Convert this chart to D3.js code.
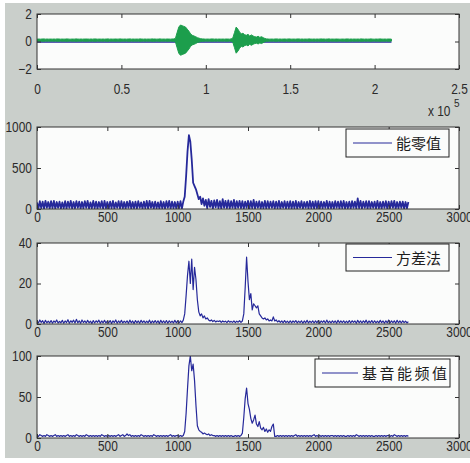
<!DOCTYPE html>
<html>
<head>
<meta charset="utf-8">
<script src="https://cdn.jsdelivr.net/npm/d3@7"></script>
<style>
    body { margin: 0; background: #fff; }
    svg text { font-family: "Liberation Sans", Arial, sans-serif; font-size: 14px; fill: #2a2a2a; }
    .legend text { font-family: "Noto Sans CJK SC", sans-serif; font-size: 15px; fill: #1e1e1e; }
    .tick line { stroke: #333; }
</style>
</head>
<body>
<div id="chart"></div>
<script>
// ---- data ----
// top panel: waveform envelope (half amplitude), one value every 0.01 x 10^5 samples
const waveStep = 0.01;
const waveAmp = [
    0.07,0.08,0.07,0.08,0.09,0.07,0.08,0.07,0.08,0.07,
    0.08,0.07,0.09,0.08,0.07,0.08,0.07,0.08,0.09,0.07,
    0.07,0.08,0.07,0.09,0.08,0.07,0.08,0.07,0.08,0.08,
    0.08,0.07,0.08,0.07,0.09,0.08,0.07,0.08,0.07,0.08,
    0.07,0.08,0.09,0.07,0.08,0.07,0.08,0.08,0.07,0.09,
    0.08,0.07,0.08,0.07,0.08,0.09,0.07,0.08,0.07,0.08,
    0.07,0.09,0.08,0.07,0.08,0.07,0.08,0.07,0.09,0.08,
    0.08,0.07,0.08,0.09,0.07,0.08,0.07,0.08,0.08,0.07,
    0.08,0.09,0.12,0.55,0.95,1.10,1.05,1.00,0.95,0.80,
    0.65,0.45,0.35,0.30,0.25,0.18,0.14,0.10,0.09,0.08,
    0.07,0.08,0.07,0.08,0.09,0.07,0.08,0.07,0.08,0.07,
    0.08,0.07,0.08,0.08,0.07,0.09,0.15,0.55,0.95,0.80,
    0.60,0.45,0.50,0.40,0.35,0.42,0.30,0.38,0.30,0.25,
    0.22,0.28,0.20,0.25,0.18,0.12,0.09,0.08,0.07,0.08,
    0.07,0.08,0.09,0.07,0.08,0.07,0.08,0.08,0.07,0.09,
    0.08,0.07,0.08,0.07,0.08,0.09,0.07,0.08,0.07,0.08,
    0.07,0.09,0.08,0.07,0.08,0.07,0.08,0.07,0.09,0.08,
    0.08,0.07,0.08,0.09,0.07,0.08,0.07,0.08,0.08,0.07,
    0.07,0.08,0.07,0.08,0.09,0.07,0.08,0.07,0.08,0.07,
    0.08,0.07,0.09,0.08,0.07,0.08,0.07,0.08,0.09,0.07,
    0.07,0.08,0.07,0.09,0.08,0.07,0.08,0.07,0.08,0.08,
    0.07
];
const greenOffset = 0.1;     // green channel centre
const blueLevel = -0.04;     // blue channel (flat)
const waveEnd = 2.1;

// lower panels: one value every 10 frames, frames 0..2640
const frameStep = 10;

const energyZero = [
    80,5,95,10,90,5,100,15,85,5,
    95,10,100,5,85,15,90,5,80,10,
    95,5,90,15,100,5,85,10,95,15,
    90,5,85,10,95,15,100,5,80,10,
    100,10,90,5,85,15,95,5,100,10,
    85,5,90,10,100,5,80,15,95,5,
    95,10,85,5,90,15,100,5,85,10,
    90,5,95,15,80,5,90,10,100,5,
    100,15,85,5,90,10,80,5,95,10,
    85,5,95,15,100,5,90,10,85,5,
    90,10,95,5,90,150,400,700,900,820,
    600,320,280,240,180,120,150,60,130,40,
    110,10,120,25,100,5,105,20,110,10,
    95,5,120,15,100,10,105,5,95,15,
    110,5,95,15,100,10,95,5,90,15,
    100,5,95,10,110,5,90,15,95,5,
    85,10,100,5,95,10,90,15,95,5,
    90,10,100,5,85,15,95,5,90,10,
    95,5,90,10,100,5,85,15,95,5,
    85,15,90,5,100,10,90,5,95,10,
    95,5,90,10,85,15,100,5,90,10,
    85,5,95,15,90,5,95,10,100,5,
    85,10,90,5,95,15,90,5,130,10,
    100,5,90,15,95,5,95,10,85,15,
    90,5,100,10,85,5,90,15,95,5,
    90,10,95,15,100,5,85,10,90,15,
    90,5,85,10,85
];

const variance = [
    1.5,0.5,2,0.8,1.6,0.3,1.8,0.6,1.4,0.5,
    1.7,0.4,1.5,0.8,2,0.5,1.3,0.6,1.8,0.4,
    1.5,0.7,2.1,0.4,1.6,0.8,1.9,0.5,2.3,0.6,
    1.6,0.4,2,0.7,1.5,0.5,1.8,0.6,1.4,0.3,
    1.7,0.5,1.6,0.8,1.9,0.4,1.5,0.6,1.8,0.5,
    1.4,0.6,1.7,0.3,1.6,0.7,2,0.4,1.5,0.6,
    1.8,0.5,1.4,0.7,1.6,0.4,1.9,0.6,1.5,0.3,
    1.7,0.6,1.5,0.4,1.8,0.7,1.6,0.5,1.4,0.6,
    1.9,0.4,1.5,0.6,1.7,0.5,1.6,0.3,1.8,0.6,
    1.5,0.5,1.7,0.4,1.6,0.7,1.4,0.5,1.8,0.6,
    1.6,0.5,1.5,0.7,1.9,5,14,24,31,20,
    32,17,28,22,12,6,4,5,3,4,
    2.5,3,2,1.5,2,1.2,1.8,1,1.5,1.2,
    1.6,0.8,1.5,1,1.4,0.7,1.6,0.9,1.3,0.8,
    1.5,0.7,1.4,0.9,1.6,0.8,1.5,5,18,33,
    21,12,15,7,10,9,8,9,5,4,
    3,2.5,3,2,2.5,1.5,2,1.5,3.5,1.5,
    2,1,1.6,0.8,1.5,0.6,1.7,0.7,1.4,0.5,
    1.6,0.6,1.5,0.8,1.7,0.5,1.4,0.7,1.6,0.4,
    1.5,0.6,1.8,0.5,1.4,0.7,1.6,0.5,1.5,0.6,
    1.7,0.4,1.5,0.8,1.6,0.5,1.9,0.6,1.4,0.5,
    1.6,0.7,1.5,0.4,1.8,0.6,1.5,0.7,1.6,0.5,
    1.4,0.6,1.7,0.5,1.6,0.8,1.5,0.4,1.8,0.6,
    1.5,0.5,1.6,0.7,1.9,0.4,1.5,0.6,1.7,0.5,
    1.6,0.6,1.4,0.5,1.8,0.7,1.5,0.4,1.6,0.6,
    1.9,0.5,1.5,0.7,1.6,0.4,1.8,0.6,1.5,0.5,
    1.6,0.7,1.4,0.5,1.2
];

const pitchEnergy = [
    3,2,4,3,2,3,2,4,3,2,
    3,2,3,4,2,3,2,3,2,3,
    2,3,4,2,3,2,3,2,4,3,
    2,3,2,3,2,4,3,2,3,2,
    3,2,3,2,3,2,4,3,2,3,
    2,3,2,3,2,3,2,3,4,2,
    3,4,2,3,5,3,4,2,3,2,
    3,2,3,2,4,3,2,3,2,3,
    2,3,2,4,3,2,3,2,3,2,
    3,2,3,2,3,4,2,3,2,3,
    3,2,3,2,3,8,30,60,88,100,
    82,90,70,40,15,10,8,7,5,6,
    5,4,5,3,4,3,3,2,3,2,
    3,2,3,2,3,2,3,2,3,2,
    2,3,2,3,2,3,6,25,48,61,
    42,35,24,18,22,28,17,14,20,12,
    10,13,8,11,7,10,8,14,17,2,
    2,3,2,3,2,3,2,3,2,3,
    2,3,2,3,4,2,3,2,3,2,
    3,2,3,2,3,2,3,4,2,3,
    2,3,2,3,2,3,2,3,2,3,
    3,2,3,2,3,2,3,2,3,2,
    2,3,2,3,2,3,2,4,3,2,
    3,2,3,2,3,2,3,2,3,2,
    2,3,2,3,2,3,2,3,2,3,
    3,2,3,2,4,3,2,3,2,3,
    2,3,2,3,2
];

// axis tick values
const waveXTicks = [0, 0.5, 1, 1.5, 2, 2.5];
const waveYTicks = [-2, 0, 2];
const frameXTicks = [0, 500, 1000, 1500, 2000, 2500, 3000];
const energyYTicks = [0, 500, 1000];
const varianceYTicks = [0, 20, 40];
const pitchYTicks = [0, 50, 100];

const legendLabels = ["能零值", "方差法", "基音能频值"];

// ---- layout ----
const W = 470, H = 463;
const left = 37, right = 459;
const blue = "#26299a";
const green = "#1c9e4c";
const squeeze = "scale(0.85,1)";   // MATLAB-like narrow digits

const svg = d3.select("#chart")
    .append("svg")
    .attr("width", W)
    .attr("height", H);

// figure background
svg.append("rect")
    .attr("x", 5).attr("y", 3)
    .attr("width", W - 5).attr("height", 455)
    .attr("fill", "#cacfcb");

function makePanel(id, top, bottom, xDomain, yDomain, xTicks, yTicks, labelPad, fmt) {
    const vis = {};
    vis.h = bottom - top;
    vis.w = right - left;
    vis.g = svg.append("g").attr("transform", `translate(${left},${top})`);

    vis.x = d3.scaleLinear().domain(xDomain).range([0, vis.w]);
    vis.y = d3.scaleLinear().domain(yDomain).range([vis.h, 0]);

    vis.g.append("rect")
        .attr("width", vis.w).attr("height", vis.h)
        .attr("fill", "#fbfcfb");

    vis.g.append("clipPath").attr("id", id)
        .append("rect").attr("width", vis.w).attr("height", vis.h);

    vis.plot = vis.g.append("g").attr("clip-path", `url(#${id})`);

    // axes, MATLAB style: ticks inside on all four sides
    const bottomAxis = vis.g.append("g")
        .attr("transform", `translate(0,${vis.h})`)
        .call(d3.axisBottom(vis.x).tickValues(xTicks).tickSize(-4).tickPadding(labelPad).tickFormat(fmt));
    const topAxis = vis.g.append("g")
        .call(d3.axisTop(vis.x).tickValues(xTicks).tickSize(-4).tickFormat(""));
    const leftAxis = vis.g.append("g")
        .call(d3.axisLeft(vis.y).tickValues(yTicks).tickSize(-4).tickPadding(6).tickFormat(fmt));
    const rightAxis = vis.g.append("g")
        .attr("transform", `translate(${vis.w},0)`)
        .call(d3.axisRight(vis.y).tickValues(yTicks).tickSize(-4).tickFormat(""));

    [bottomAxis, topAxis, leftAxis, rightAxis].forEach(a => {
        a.select(".domain").remove();
        a.attr("font-family", null).attr("font-size", null);
    });
    bottomAxis.selectAll("text").attr("transform", squeeze);
    leftAxis.selectAll("text").attr("transform", squeeze);

    // axes box
    vis.g.append("rect")
        .attr("width", vis.w).attr("height", vis.h)
        .attr("fill", "none")
        .attr("stroke", "#333")
        .attr("stroke-width", 1);

    return vis;
}

function addLegend(label, x0, x1, y0, y1, lineX0, lineX1) {
    const lg = svg.append("g").attr("class", "legend");
    lg.append("rect")
        .attr("x", x0).attr("y", y0)
        .attr("width", x1 - x0).attr("height", y1 - y0)
        .attr("fill", "#fbfcfb")
        .attr("stroke", "#222");
    lg.append("line")
        .attr("x1", lineX0).attr("x2", lineX1)
        .attr("y1", (y0 + y1) / 2).attr("y2", (y0 + y1) / 2)
        .attr("stroke", blue).attr("stroke-width", 1.2);
    lg.append("text")
        .attr("x", lineX1 + 4)
        .attr("y", (y0 + y1) / 2 + 6)
        .attr("letter-spacing", label.length > 3 ? 2.5 : 0)
        .text(label);
}

// ---- panel 1: waveform ----
const p1 = makePanel("c1", 14, 69, [0, 2.5], [-2, 2], waveXTicks, waveYTicks, 15, d3.format("~g"));

p1.plot.append("path")
    .datum([0, waveEnd])
    .attr("d", d3.line().x(d => p1.x(d)).y(() => p1.y(blueLevel)))
    .attr("stroke", blue).attr("stroke-width", 1.5).attr("fill", "none");

p1.plot.append("path")
    .datum(waveAmp)
    .attr("d", d3.area()
        .x((d, i) => p1.x(i * waveStep))
        .y0(d => p1.y(greenOffset - d))
        .y1(d => p1.y(greenOffset + d)))
    .attr("fill", green).attr("stroke", green).attr("stroke-width", 1);

// exponent label
const expo = svg.append("g").attr("transform", "translate(428,0)");
expo.append("text").attr("y", 116).attr("transform", squeeze).text("x 10");
expo.append("text").attr("x", 26).attr("y", 107).style("font-size", "10px").text("5");

// ---- panels 2-4 ----
const seriesList = [
    { id: "c2", top: 127, bottom: 209, data: energyZero, yDomain: [0, 1000], yTicks: energyYTicks,
      width: 1.8, legend: [346, 449, 129, 157, 353, 392] },
    { id: "c3", top: 243, bottom: 324, data: variance, yDomain: [0, 40], yTicks: varianceYTicks,
      width: 1.2, legend: [346, 449, 244, 271, 353, 392] },
    { id: "c4", top: 356, bottom: 438, data: pitchEnergy, yDomain: [0, 100], yTicks: pitchYTicks,
      width: 1.2, legend: [315, 450, 359, 387, 322, 358] }
];

seriesList.forEach((s, k) => {
    const p = makePanel(s.id, s.top, s.bottom, [0, 3000], s.yDomain, frameXTicks, s.yTicks, 3, d3.format("d"));

    p.plot.append("path")
        .datum(s.data)
        .attr("d", d3.line()
            .x((d, i) => p.x(i * frameStep))
            .y(d => p.y(d)))
        .attr("fill", "none")
        .attr("stroke", blue)
        .attr("stroke-width", s.width)
        .attr("stroke-linejoin", "round");

    addLegend(legendLabels[k], ...s.legend);
});
</script>
</body>
</html>
